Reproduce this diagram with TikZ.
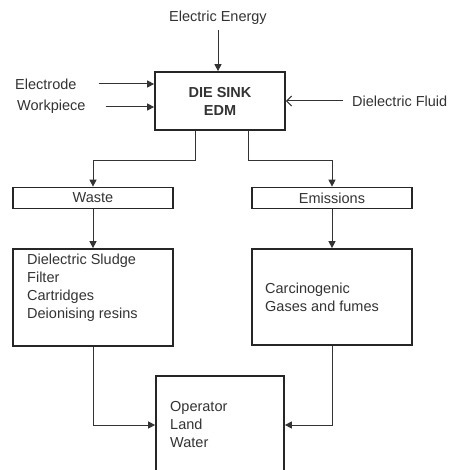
\documentclass[tikz,border=0pt]{standalone}
\usepackage{fontspec}
\setmainfont{Liberation Sans}
\usetikzlibrary{arrows.meta}

\begin{document}
\begin{tikzpicture}[x=1pt, y=-1pt,
    box/.style={draw=black!85, line width=1.7pt, rectangle, inner sep=0pt, text=black!80,
        font=\fontsize{14.5}{18}\selectfont},
    txt/.style={text=black!80, font=\fontsize{14.5}{18}\selectfont, align=left, inner sep=0pt},
    flow/.style={draw=black!80, line width=1pt, -{Triangle[length=7pt,width=7pt]}}]
    \useasboundingbox (0,0) rectangle (459,470);
    \clip (0,0) rectangle (459,470);
    % process box and its inputs
    \node[box, minimum width=130, minimum height=58, align=center, font=\bfseries\fontsize{14.5}{18}\selectfont] (edm) at (220,101) {DIE SINK\\EDM};
    \node[txt] (energy) at (218,18) {Electric Energy};
    \node[txt, anchor=west] (electrode) at (15,84) {Electrode};
    \node[txt, anchor=west] (workpiece) at (17,107) {Workpiece};
    \node[txt, anchor=west] (fluid) at (352,101) {Dielectric Fluid};
    \draw[flow] (energy.south) ++(0,5) -- (energy.south |- edm.north);
    \draw[flow] (electrode.east) ++(22,0) -- (electrode.east -| edm.west);
    \draw[flow] (workpiece.east) ++(20,0) -- (workpiece.east -| edm.west);
    \draw[draw=black!80, line width=1pt, -{Straight Barb[length=5pt,width=10pt]}] (fluid.west) ++(-9,0) -- (fluid.west -| edm.east);
    % outputs
    \node[box, minimum width=160, minimum height=21] (waste) at (93,198) {Waste};
    \node[box, minimum width=160, minimum height=21] (emissions) at (332,198) {Emissions};
    \draw[flow] ([xshift=-25pt]edm.south) -- ++(0,30) -| (waste.north);
    \draw[flow] ([xshift=28pt]edm.south) -- ++(0,30) -| (emissions.north);
    \node[box, minimum width=160, minimum height=97] (sludge) at (93,297.5) {};
    \node[box, minimum width=160, minimum height=96] (fumes) at (332,297) {};
    \node[txt, anchor=north west] (sludgetxt) at (27,254) {Dielectric Sludge\\Filter\\Cartridges\\Deionising resins};
    \node[txt, anchor=west] (fumestxt) at (265,297) {Carcinogenic\\Gases and fumes};
    \draw[flow] (waste.south) -- (sludge.north);
    \draw[flow] (emissions.south) -- (fumes.north);
    % receptors
    \node[box, minimum width=128, minimum height=110] (receptor) at (220,431) {};
    \node[txt, anchor=west] (targets) at (170,425) {Operator\\Land\\Water};
    \draw[flow] (sludge.south) |- (targets.west -| receptor.west);
    \draw[flow] (fumes.south) |- (targets.west -| receptor.east);
\end{tikzpicture}
\end{document}
